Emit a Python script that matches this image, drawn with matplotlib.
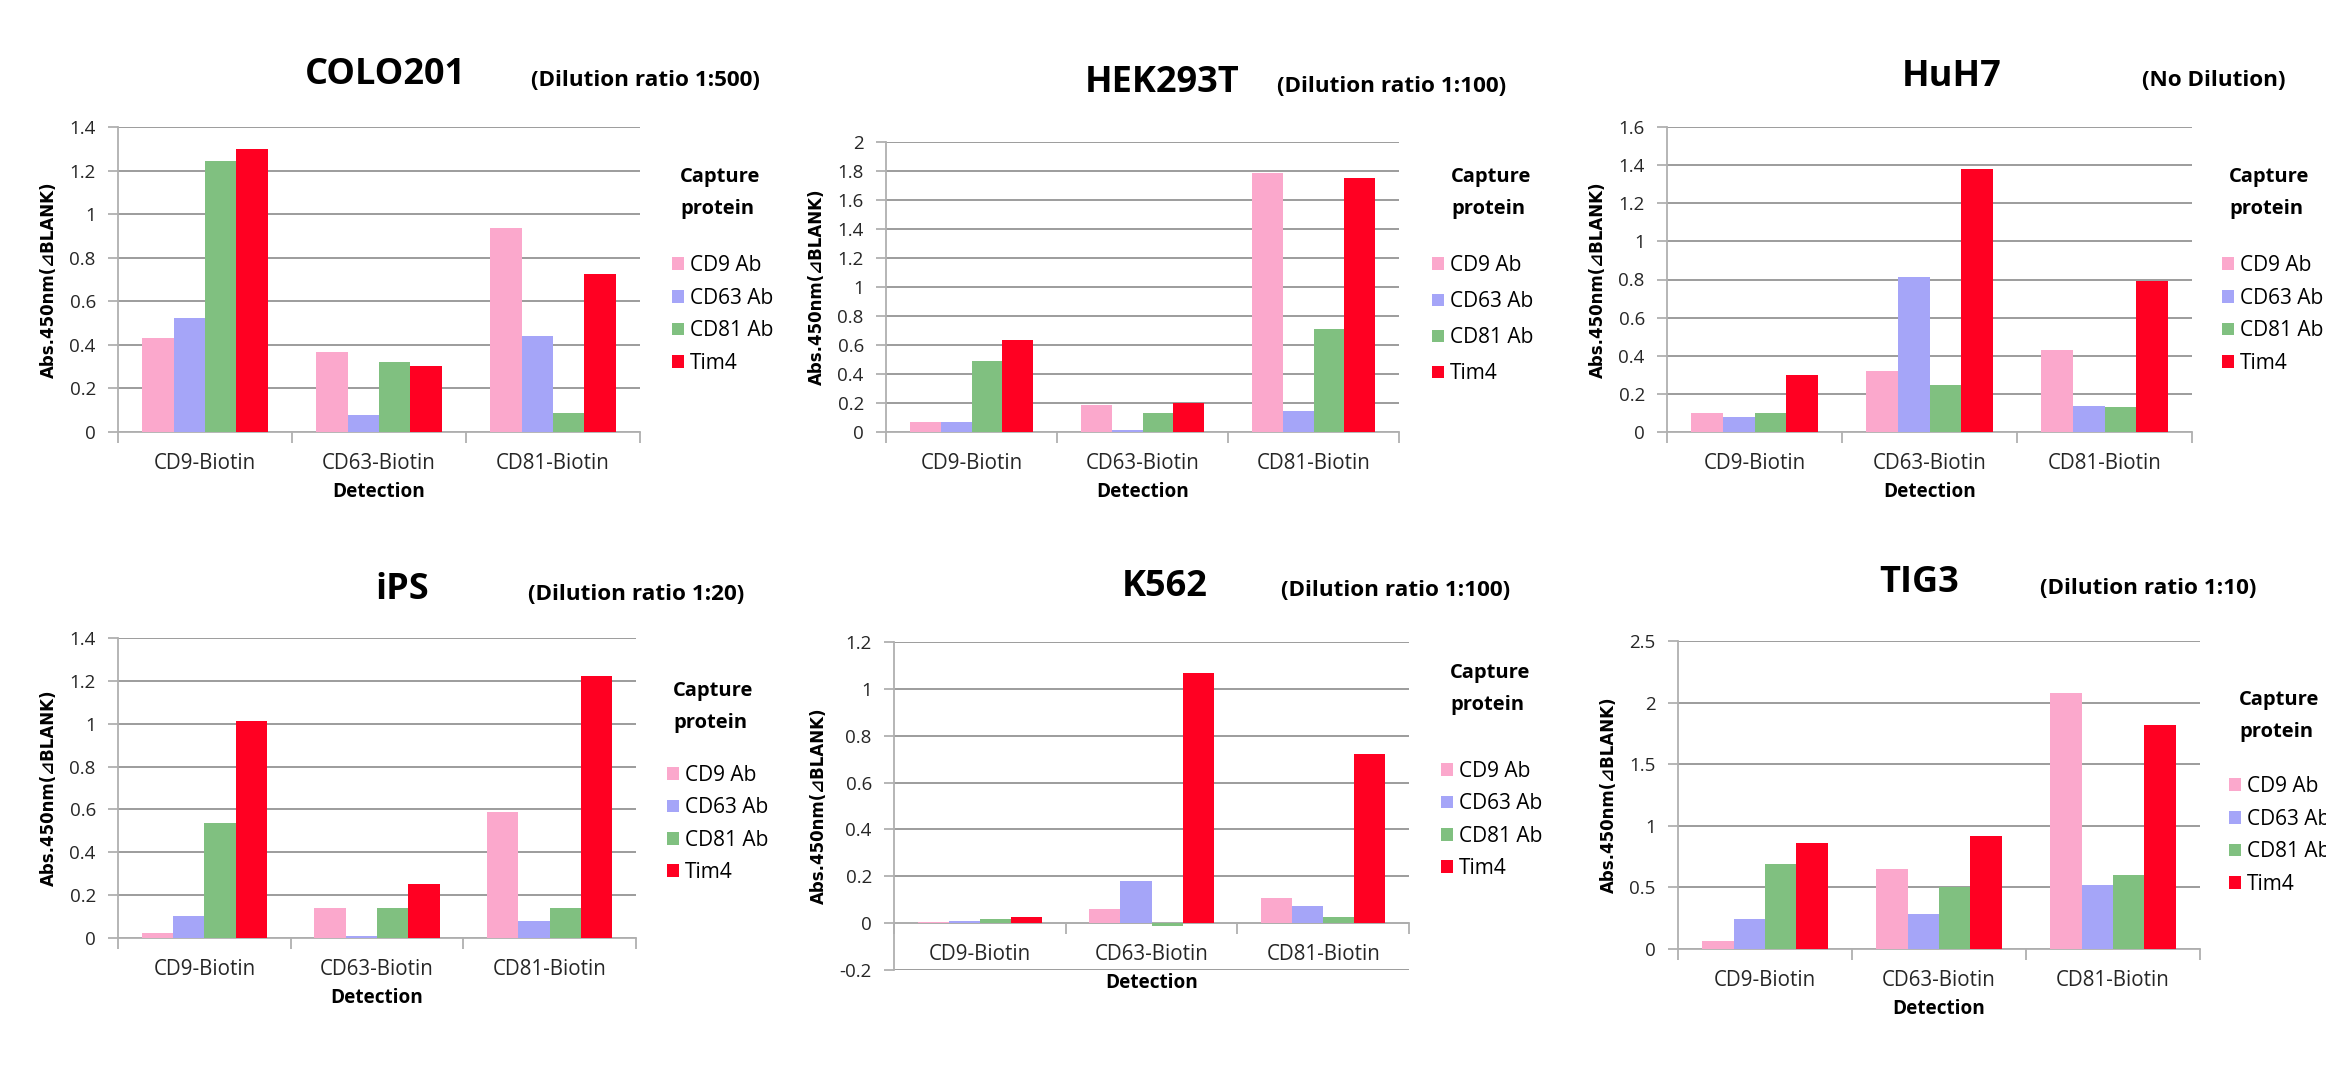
import matplotlib.pyplot as plt
from matplotlib import ticker

detections = ['CD9-Biotin', 'CD63-Biotin', 'CD81-Biotin']
captures = ['CD9 Ab', 'CD63 Ab', 'CD81 Ab', 'Tim4']
colors = ['#FBA8CC', '#A5A5F8', '#80C080', '#FF0022']

# one row per capture protein, values across the three detections
colo201 = [[0.43, 0.366, 0.936],
           [0.523, 0.08, 0.442],
           [1.245, 0.323, 0.087],
           [1.30, 0.304, 0.724]]
hek293t = [[0.071, 0.189, 1.786],
           [0.067, 0.011, 0.143],
           [0.492, 0.131, 0.713],
           [0.637, 0.20, 1.754]]
huh7 = [[0.10, 0.32, 0.432],
        [0.08, 0.813, 0.135],
        [0.10, 0.245, 0.129],
        [0.30, 1.378, 0.792]]
ips = [[0.022, 0.14, 0.59],
       [0.103, 0.009, 0.081],
       [0.538, 0.14, 0.14],
       [1.011, 0.252, 1.224]]
k562 = [[0.006, 0.061, 0.107],
        [0.011, 0.178, 0.075],
        [0.016, -0.014, 0.026],
        [0.027, 1.069, 0.72]]
tig3 = [[0.068, 0.649, 2.076],
        [0.246, 0.284, 0.522],
        [0.686, 0.505, 0.603],
        [0.857, 0.916, 1.816]]

cells = ['COLO201', 'HEK293T', 'HuH7', 'iPS', 'K562', 'TIG3']
dilutions = ['(Dilution ratio 1:500)', '(Dilution ratio 1:100)', '(No Dilution)',
             '(Dilution ratio 1:20)', '(Dilution ratio 1:100)', '(Dilution ratio 1:10)']
values = [colo201, hek293t, huh7, ips, k562, tig3]
ylims = [(0, 1.4), (0, 2), (0, 1.6), (0, 1.4), (-0.2, 1.2), (0, 2.5)]
ysteps = [0.2, 0.2, 0.2, 0.2, 0.2, 0.5]

# layout, in pixels of the 2326x1070 picture
W, H = 2326, 1070
boxes = [(118, 127, 640, 432), (886, 142, 1399, 432), (1667, 127, 2192, 432),
         (118, 638, 636, 938), (894, 642, 1409, 970), (1678, 641, 2200, 949)]
title_xy = [(385, 75), (1162, 83), (1952, 77), (402, 590), (1165, 587), (1919, 583)]
dil_xy = [(645, 80), (1392, 87), (2214, 80), (636, 595), (1396, 591), (2148, 589)]
# patch left x, "Capture" left x, "Capture" y, first entry y, entry step
leg = [(672, 680, 177, 259, 37), (1432, 1451, 177, 259, 40.5), (2222, 2229, 177, 259, 37),
       (667, 673, 691, 769, 36.7), (1441, 1450, 673, 765, 36.7), (2229, 2239, 700, 780, 37)]

plt.rcParams['font.family'] = ['Open Sans', 'DejaVu Sans']

fig = plt.figure(figsize=(W / 100, H / 100), dpi=100)

fs_leg = 15
em = fs_leg * 100 / 72
bw = 0.181
for k in range(6):
    l, t, r, b = boxes[k]
    ax = fig.add_axes([l / W, 1 - b / H, (r - l) / W, (b - t) / H])
    for i, cap in enumerate(captures):
        xs = [j + (i - 1.5) * bw for j in range(3)]
        ax.bar(xs, values[k][i], width=bw, color=colors[i], label=cap, zorder=3)

    ax.set_xlim(-0.5, 2.5)
    ax.set_ylim(*ylims[k])
    ax.yaxis.set_major_locator(ticker.MultipleLocator(ysteps[k]))
    ax.yaxis.set_major_formatter(ticker.FuncFormatter(lambda v, p: f'{v:g}'))
    ax.set_xticks([-0.5, 0.5, 1.5, 2.5])
    ax.set_xticklabels([])
    ax.set_xticks([0, 1, 2], minor=True)
    ax.set_xticklabels(detections, minor=True)
    ax.tick_params(axis='x', which='major', direction='out', length=8, color='#B0B0B0', width=1.3)
    ax.tick_params(axis='x', which='minor', length=0, pad=15, labelsize=14.8, labelcolor='#262626')
    ax.tick_params(axis='y', direction='out', length=7, color='#B0B0B0', width=1.3,
                   labelsize=13.5, labelcolor='#262626', pad=9)
    ax.grid(axis='y', color='#9C9C9C', lw=1.4, zorder=0)
    for s in ['top', 'right']:
        ax.spines[s].set_visible(False)
    for s in ['left', 'bottom']:
        ax.spines[s].set_color('#B0B0B0')
        ax.spines[s].set_linewidth(1.3)
    if ylims[k][0] < 0:
        ax.spines['bottom'].set_position(('data', 0))

    ax.set_xlabel('Detection', fontsize=13.7, fontweight='bold', labelpad=6)
    ax.set_ylabel('Abs.450nm(⊿BLANK)', fontsize=12, fontweight='bold',
                  family=['DejaVu Sans'], labelpad=8)

    tx, ty = title_xy[k]
    fig.text(tx / W, 1 - ty / H, cells[k], fontsize=26, fontweight='bold', ha='center', va='center')
    dx, dy = dil_xy[k]
    fig.text(dx / W, 1 - dy / H, dilutions[k], fontsize=16.2, fontweight='bold', ha='center', va='center')

    px, cx, cy, ey, step = leg[k]
    fig.text(cx / W, 1 - cy / H, 'Capture', fontsize=14.5, fontweight='bold', va='center')
    fig.text(cx / W, 1 - (cy + 32) / H, 'protein', fontsize=14.5, fontweight='bold', va='center')
    mid = ey + 1.5 * step
    ax.legend(loc='center left', bbox_to_anchor=(px / W, 1 - mid / H), bbox_transform=fig.transFigure,
              frameon=False, fontsize=fs_leg, handlelength=0.58, handleheight=0.55, handletextpad=0.27,
              labelspacing=(step - 1.22 * em) / em, borderpad=0, borderaxespad=0)

fig.savefig('out.png', dpi=100)
